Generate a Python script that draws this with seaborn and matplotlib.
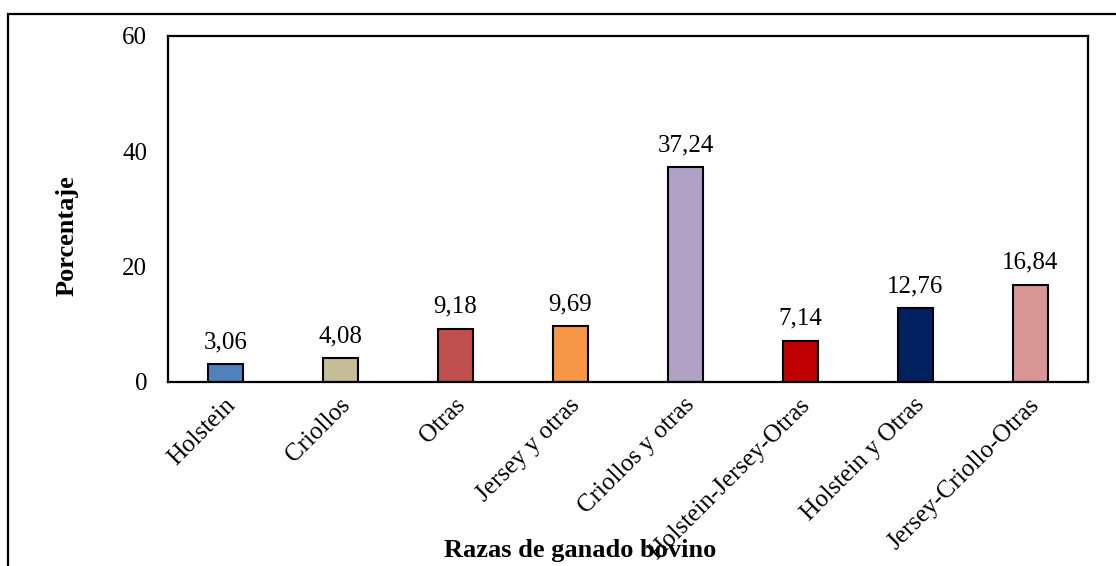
import matplotlib
matplotlib.use("Agg")
import matplotlib.pyplot as plt
from matplotlib.patches import Rectangle
from matplotlib.transforms import ScaledTranslation
import pandas as pd
import seaborn as sns

razas = ["Holstein", "Criollos", "Otras", "Jersey y otras", "Criollos y otras",
         "Holstein-Jersey-Otras", "Holstein y Otras", "Jersey-Criollo-Otras"]
porcentaje = [3.06, 4.08, 9.18, 9.69, 37.24, 7.14, 12.76, 16.84]
colores = ["#4F81BD", "#C4BD97", "#C0504D", "#F79646", "#B2A1C7",
           "#C00000", "#002060", "#D99694"]

sns.set_style("white")
plt.rcParams["font.family"] = ["Liberation Serif", "DejaVu Serif"]
plt.rcParams["text.color"] = "black"
plt.rcParams["xtick.color"] = "black"
plt.rcParams["ytick.color"] = "black"

df = pd.DataFrame({"Raza": razas, "Porcentaje": porcentaje})

fig = plt.figure(figsize=(11.16, 5.66), dpi=100)
ax = fig.add_axes([168 / 1116, 1 - 382 / 566, 920 / 1116, 346 / 566])

sns.barplot(data=df, x="Raza", y="Porcentaje", hue="Raza", palette=colores,
            legend=False, width=0.31, edgecolor="black", linewidth=1.5,
            saturation=1, ax=ax)

# etiquetas de valor con coma decimal
for i, v in enumerate(porcentaje):
    ax.annotate(f"{v:.2f}".replace(".", ","), (i, v), xytext=(0, 8),
                textcoords="offset points", ha="center", va="bottom",
                fontsize=18)

ax.set_ylim(0, 60)
ax.set_yticks([0, 20, 40, 60])
ax.set_xlim(-0.5, len(razas) - 0.5)
ax.tick_params(axis="y", length=0, pad=15, labelsize=18)
ax.tick_params(axis="x", length=0, pad=12, labelsize=18)
desplaza = ScaledTranslation(0.06, -0.03, fig.dpi_scale_trans)
for lab in ax.get_xticklabels():
    lab.set_rotation(45)
    lab.set_ha("right")
    lab.set_va("center")
    lab.set_rotation_mode("anchor")
    lab.set_transform(lab.get_transform() + desplaza)
for s in ax.spines.values():
    s.set_linewidth(1.6)
    s.set_color("black")
ax.set_xlabel("")
ax.set_ylabel("")

fig.text(580 / 1116, 1 - 551 / 566, "Razas de ganado bovino", ha="center",
         va="center", fontsize=19, fontweight="bold")
fig.text(67 / 1116, 1 - 236 / 566, "Porcentaje", ha="center", va="center",
         rotation=90, fontsize=19, fontweight="bold")

# marco exterior del gráfico
fig.patches.append(Rectangle((8 / 1116, -0.1), 1.2, 1 - 14 / 566 + 0.1,
                             transform=fig.transFigure, fill=False,
                             edgecolor="black", linewidth=1.6))

fig.savefig("out.png", dpi=100)
